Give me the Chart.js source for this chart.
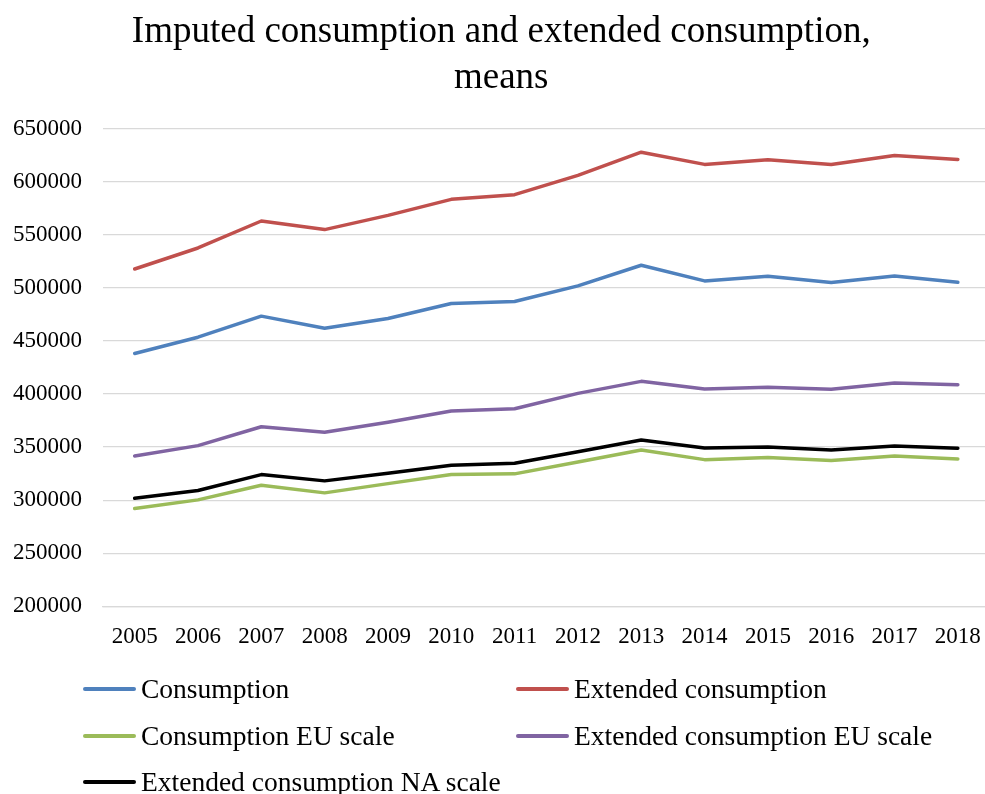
<!DOCTYPE html>
<html>
<head>
<meta charset="utf-8">
<script src="https://cdn.jsdelivr.net/npm/chart.js@4/dist/chart.umd.min.js"></script>
<style>
    body {
        margin: 0;
        background: #fff;
        overflow: hidden;
        font-family: "Liberation Serif", "Times New Roman", serif;
    }
    #wrap {
        position: relative;
        width: 985px;
        height: 794px;
    }
    #chart {
        position: absolute;
        left: 0;
        top: 0;
    }
    #legend {
        position: absolute;
        left: 83px;
        top: 666px;
        display: grid;
        grid-template-columns: 433px 433px;
        grid-auto-rows: 46.5px;
        font-size: 27.5px;
        color: #000;
    }
    .legend-item {
        display: flex;
        align-items: center;
        white-space: nowrap;
    }
    .legend-line {
        width: 53px;
        height: 4px;
        margin-right: 5px;
        border-radius: 2px;
    }
</style>
</head>
<body>
<div id="wrap">
    <canvas id="chart" width="1012" height="668"></canvas>
    <div id="legend"></div>
</div>
<script>
const years = ['2005', '2006', '2007', '2008', '2009', '2010', '2011', '2012', '2013', '2014', '2015', '2016', '2017', '2018'];

const consumption = [438200, 453500, 473300, 462000, 471100, 485200, 487100, 501800, 521200, 506500, 510900, 505000, 511200, 505200];
const extendedConsumption = [517700, 537500, 562900, 554800, 568200, 583300, 587700, 605800, 627700, 616200, 620600, 616200, 624600, 620900];
const consumptionEU = [292100, 300300, 314100, 306900, 315600, 324100, 324800, 336000, 347300, 338200, 340100, 337300, 341700, 338900];
const extendedEU = [341700, 351400, 369200, 364000, 373400, 384000, 386100, 400600, 411900, 404700, 406300, 404400, 410300, 408700];
const extendedNA = [301900, 309100, 324100, 318200, 325400, 332900, 334800, 345700, 356700, 349200, 350100, 347300, 351100, 348900];

const yMin = 200000;
const yMax = 650000;
const yStep = 50000;

const serif = "'Liberation Serif', 'Times New Roman', serif";

function line(label, data, color) {
    return {
        label: label,
        data: data,
        borderColor: color,
        backgroundColor: color,
        borderWidth: 3.5,
        pointRadius: 0,
        pointHoverRadius: 0,
        tension: 0,
        borderJoinStyle: 'round',
        borderCapStyle: 'round'
    };
}

const chart = new Chart(document.getElementById('chart'), {
    type: 'line',
    data: {
        labels: years,
        datasets: [
            line('Consumption', consumption, '#4f81bd'),
            line('Extended consumption', extendedConsumption, '#c0504d'),
            line('Consumption EU scale', consumptionEU, '#9bbb59'),
            line('Extended consumption EU scale', extendedEU, '#8064a2'),
            line('Extended consumption NA scale', extendedNA, '#000000')
        ]
    },
    options: {
        responsive: false,
        animation: false,
        layout: {
            padding: {left: 13, right: 22.5, top: 0, bottom: 0}
        },
        plugins: {
            legend: {display: false},
            tooltip: {enabled: false},
            title: {
                display: true,
                text: ['Imputed consumption and extended consumption,', 'means'],
                color: '#000',
                font: {family: serif, size: 37, weight: 'normal', lineHeight: 1.25},
                padding: {top: 9, bottom: 27}
            }
        },
        scales: {
            x: {
                offset: true,
                grid: {display: false, drawTicks: false, offset: true},
                border: {display: true, color: '#d9d9d9', width: 1.3},
                ticks: {
                    color: '#000',
                    padding: 17,
                    maxRotation: 0,
                    autoSkip: false,
                    font: {family: serif, size: 23}
                }
            },
            y: {
                min: yMin,
                max: yMax,
                afterFit: (scale) => { scale.width = 90; },
                grid: {color: '#d9d9d9', lineWidth: 1.3, drawTicks: false},
                border: {display: false},
                ticks: {
                    stepSize: yStep,
                    color: '#000',
                    padding: 21,
                    font: {family: serif, size: 23},
                    callback: (value) => String(value)
                }
            }
        }
    }
});

// legend in two columns, built from the chart's datasets
const legendBox = document.getElementById('legend');
chart.data.datasets.forEach(ds => {
    const item = document.createElement('div');
    item.className = 'legend-item';
    const swatch = document.createElement('span');
    swatch.className = 'legend-line';
    swatch.style.background = ds.borderColor;
    const text = document.createElement('span');
    text.textContent = ds.label;
    item.appendChild(swatch);
    item.appendChild(text);
    legendBox.appendChild(item);
});
</script>
</body>
</html>
